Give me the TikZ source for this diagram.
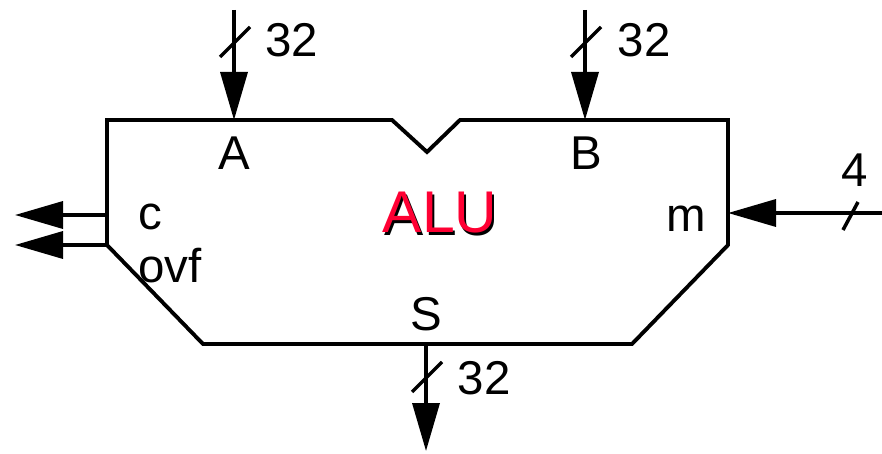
\documentclass[tikz,border=0pt]{standalone}
\usepackage{fontspec}
\setmainfont{Liberation Sans}
\usetikzlibrary{arrows.meta}
\definecolor{alured}{HTML}{FF0033}
\tikzset{
  every picture/.style={line join=miter, >=Stealth},
  wire/.style={line width=2.2pt},
  bus/.style={line width=2pt, -{Triangle[length=0.96cm,width=0.54cm]}},
  tick/.style={line width=2pt},
  lbl/.style={font=\fontsize{27}{32}\selectfont, anchor=base, inner sep=0pt},
  alufont/.style={font=\fontsize{33.5}{38}\selectfont, anchor=base, inner sep=0pt},
}

\begin{document}
\begin{tikzpicture}
\useasboundingbox (0,0) rectangle (17.64,9.06);
% ALU body with notch
\draw[wire] (2.14,6.66)--(7.84,6.66)--(8.54,6.02)--(9.2,6.66)--(14.56,6.66)
  --(14.56,4.16)--(12.64,2.18)--(4.06,2.18)--(2.14,4.16)--cycle;
% port points
\coordinate (ain) at (4.68,8.86);
\coordinate (aport) at (4.68,6.66);
\coordinate (bin) at (11.7,8.86);
\coordinate (bport) at (11.7,6.66);
\coordinate (min) at (17.64,4.8);
\coordinate (mport) at (14.56,4.8);
\coordinate (cport) at (2.14,4.76);
\coordinate (cout) at (0.3,4.76);
\coordinate (oport) at (2.14,4.16);
\coordinate (oout) at (0.3,4.16);
\coordinate (sport) at (8.52,2.18);
\coordinate (sout) at (8.52,0.04);
% buses
\draw[bus] (ain)--(aport);
\draw[bus] (bin)--(bport);
\draw[bus] (min)--(mport);
\draw[bus] (cport)--(cout);
\draw[bus] (oport)--(oout);
\draw[bus] (sport)--(sout);
% width ticks
\draw[tick] (4.4,7.92)--(5.0,8.52);
\draw[tick] (11.42,7.92)--(12.02,8.52);
\draw[tick] (8.24,1.22)--(8.84,1.82);
\draw[tick] (16.86,4.46)--(17.16,5.02);
% labels
\node[lbl] (wa) at (5.84,7.92) {32};
\node[lbl] (wb) at (12.88,7.92) {32};
\node[lbl] (ws) at (9.68,1.18) {32};
\node[lbl] (wm) at (17.1,5.32) {4};
\node[lbl] (la) at (4.68,5.66) {A};
\node[lbl] (lb) at (11.72,5.66) {B};
\node[lbl, anchor=base west] (lc) at (2.76,4.46) {c};
\node[lbl, anchor=base west] (lo) at (2.76,3.42) {ovf};
\node[lbl] (lm) at (13.72,4.42) {m};
\node[lbl] (ls) at (8.52,2.46) {S};
\node[alufont, black] (alush) at (8.84,4.36) {ALU};
\node[alufont, text=alured] (alu) at (8.8,4.4) {ALU};
\end{tikzpicture}
\end{document}
